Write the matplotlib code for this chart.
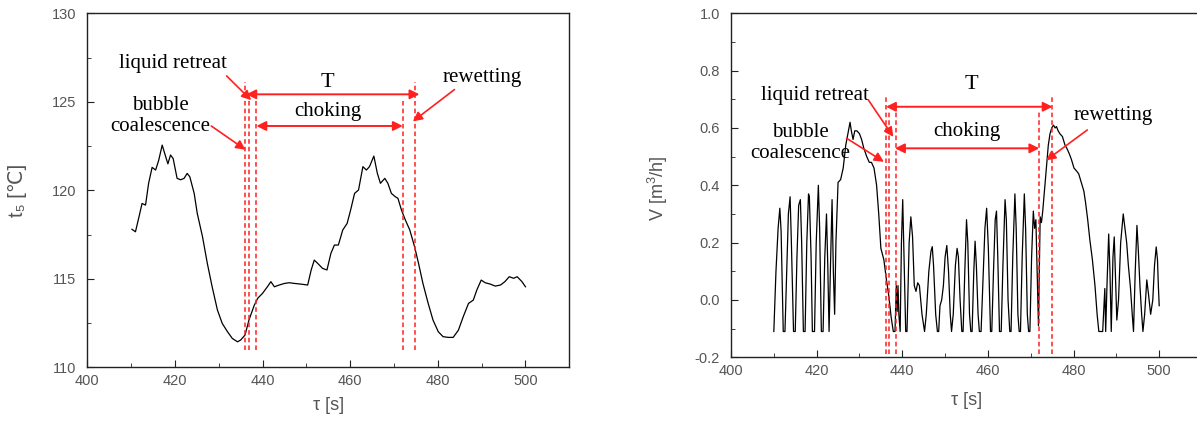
import matplotlib
matplotlib.use('Agg')
import matplotlib.pyplot as plt
import numpy as np

# temperature t5 vs time (left panel)
t_time = [410.2, 411.0, 411.8, 412.5, 413.3, 414.0, 414.8, 415.6, 416.3, 417.1,
          417.9, 418.4, 419.0, 419.6, 420.5, 421.3, 422.1, 422.8, 423.4, 424.4,
          425.1, 426.3, 427.4, 428.5, 429.7, 430.8, 432.0, 433.1, 434.3, 435.0,
          436.0, 436.9, 438.1, 438.9, 440.0, 441.1, 441.9, 442.7, 443.8, 445.0,
          446.1, 447.3, 448.8, 450.3, 451.1, 451.8, 452.6, 453.7, 454.7, 455.6,
          456.4, 457.3, 458.3, 459.3, 460.1, 461.0, 461.9, 462.9, 463.7, 464.4,
          465.4, 466.2, 466.9, 467.9, 468.6, 469.4, 470.3, 470.9, 471.7, 472.6,
          473.6, 474.7, 475.6, 476.6, 477.8, 478.9, 480.1, 481.2, 482.4, 483.5,
          484.7, 485.8, 487.0, 488.1, 488.9, 489.9, 490.8, 492.0, 493.1, 494.3,
          495.3, 496.3, 497.3, 498.1, 499.2, 500.0]
t_val = [117.8, 117.66, 118.5, 119.26, 119.17, 120.4, 121.3, 121.15, 121.7, 122.56,
         121.9, 121.5, 122.0, 121.8, 120.68, 120.6, 120.68, 120.96, 120.77, 119.83,
         118.7, 117.38, 115.87, 114.55, 113.24, 112.48, 112.01, 111.63, 111.44, 111.54,
         111.82, 112.67, 113.5, 113.9, 114.18, 114.55, 114.84, 114.55, 114.65, 114.74,
         114.78, 114.74, 114.7, 114.65, 115.5, 116.06, 115.87, 115.59, 115.5, 116.44,
         116.91, 116.91, 117.76, 118.13, 118.89, 119.83, 120.02, 121.34, 121.15, 121.34,
         121.94, 120.96, 120.4, 120.68, 120.4, 119.83, 119.64, 119.55, 118.89, 118.32,
         117.76, 116.81, 115.87, 114.74, 113.61, 112.67, 112.01, 111.73, 111.69, 111.69,
         112.1, 112.86, 113.61, 113.8, 114.37, 114.93, 114.78, 114.7, 114.59, 114.65,
         114.84, 115.12, 115.03, 115.12, 114.84, 114.55]

# volume flow V vs time (right panel)
v_time = [410.0, 410.5, 411.0, 411.4, 411.7, 412.2, 412.6, 413.0, 413.4, 413.8,
          414.1, 414.6, 415.0, 415.4, 415.8, 416.2, 416.5, 416.9, 417.3, 417.7,
          418.1, 418.3, 418.7, 419.0, 419.5, 419.9, 420.4, 420.7, 421.1, 421.5,
          421.9, 422.3, 422.6, 422.9, 423.2, 423.6, 423.9, 424.2, 424.5, 425.0,
          425.6, 426.2, 426.8, 427.3, 427.8, 428.1, 428.5, 428.9, 429.4, 430.0,
          430.5, 431.0, 431.7, 432.3, 432.8, 433.4, 434.0, 434.5, 435.0, 435.7,
          436.3, 436.8, 437.4, 437.9, 438.3, 438.6, 438.8, 439.0, 439.2, 439.5,
          439.8, 440.1, 440.4, 440.8, 441.1, 441.6, 442.0, 442.4, 442.8, 443.2,
          443.6, 444.0, 444.6, 445.2, 445.6, 446.2, 446.7, 447.0, 447.3, 447.8,
          448.2, 448.5, 448.8, 449.2, 449.6, 450.0, 450.4, 450.8, 451.2, 451.5,
          451.9, 452.4, 452.8, 453.1, 453.5, 453.9, 454.2, 454.6, 455.0, 455.3,
          455.7, 456.0, 456.3, 456.7, 457.0, 457.3, 457.7, 458.0, 458.4, 458.8,
          459.3, 459.7, 460.1, 460.6, 460.9, 461.3, 461.7, 462.0, 462.3, 462.7,
          463.1, 463.5, 464.0, 464.3, 464.7, 465.1, 465.4, 465.8, 466.3, 466.6,
          467.0, 467.3, 467.6, 468.0, 468.5, 468.8, 469.2, 469.5, 469.8, 470.2,
          470.6, 470.9, 471.2, 471.5, 471.8, 472.0, 472.2, 472.5, 472.8, 473.2,
          473.7, 474.1, 474.5, 474.9, 475.3, 475.7, 476.0, 476.4, 476.8, 477.4,
          478.0, 478.4, 479.0, 479.5, 480.1, 480.7, 481.2, 481.8, 482.4, 482.8,
          483.3, 483.8, 484.4, 485.0, 485.5, 485.9, 486.8, 487.1, 487.3, 487.5,
          487.8, 488.2, 488.5, 488.8, 489.2, 489.5, 489.8, 490.1, 490.5, 491.0,
          491.6, 492.0, 492.4, 492.8, 493.3, 493.7, 494.0, 494.4, 494.8, 495.1,
          495.5, 495.9, 496.2, 496.6, 497.1, 497.5, 498.0, 498.5, 498.9, 499.3,
          499.6, 499.8, 500.0]
v_val = [-0.11, 0.10, 0.25, 0.32, 0.24, -0.11, -0.11, 0.10, 0.30, 0.36,
         0.20, -0.11, -0.11, 0.15, 0.33, 0.35, 0.20, -0.11, -0.11, 0.20,
         0.37, 0.36, 0.15, -0.11, -0.11, 0.20, 0.40, 0.25, -0.11, -0.11,
         0.15, 0.30, 0.12, -0.11, 0.10, 0.35, 0.10, -0.05, 0.20, 0.41,
         0.42, 0.46, 0.54, 0.58, 0.62, 0.59, 0.56, 0.59, 0.59, 0.58,
         0.56, 0.53, 0.50, 0.48, 0.48, 0.46, 0.40, 0.30, 0.18, 0.14,
         0.07, 0.02, -0.06, -0.11, -0.11, 0.05, -0.04, 0.05, -0.05, -0.11,
         0.20, 0.35, 0.15, -0.11, -0.11, 0.20, 0.29, 0.22, 0.05, 0.03,
         0.06, 0.05, -0.05, -0.11, -0.05, 0.10, 0.17, 0.186, 0.12, -0.05,
         -0.11, -0.11, -0.02, 0.00, 0.05, 0.15, 0.19, 0.10, -0.05, -0.11,
         -0.05, 0.12, 0.18, 0.15, 0.00, -0.11, -0.11, 0.10, 0.28, 0.20,
         -0.05, -0.11, -0.11, 0.10, 0.205, 0.12, -0.05, -0.11, -0.11, 0.05,
         0.25, 0.32, 0.18, -0.11, -0.11, 0.10, 0.28, 0.31, 0.15, -0.11,
         -0.11, 0.12, 0.35, 0.28, 0.00, -0.11, -0.11, 0.15, 0.37, 0.25,
         -0.05, -0.11, -0.11, 0.15, 0.37, 0.25, -0.05, -0.11, -0.11, 0.15,
         0.31, 0.25, 0.28, 0.10, -0.09, 0.10, 0.29, 0.27, 0.31, 0.38,
         0.47, 0.54, 0.58, 0.60, 0.61, 0.60, 0.605, 0.59, 0.58, 0.57,
         0.54, 0.53, 0.51, 0.49, 0.46, 0.45, 0.44, 0.41, 0.38, 0.34,
         0.28, 0.21, 0.14, 0.05, -0.05, -0.11, -0.11, -0.02, 0.04, -0.11,
         0.05, 0.23, 0.10, -0.11, 0.15, 0.22, 0.08, -0.07, 0.00, 0.20,
         0.30, 0.25, 0.20, 0.12, 0.04, -0.05, -0.11, 0.10, 0.26, 0.18,
         0.05, -0.05, -0.11, -0.05, 0.07, 0.02, -0.05, 0.00, 0.12, 0.185,
         0.14, 0.05, -0.02]

# event markers (dashed lines) shared by both panels
event_x = [436.1, 436.8, 438.5, 472.0, 474.9]

plt.rcParams['font.family'] = ['Liberation Sans', 'DejaVu Sans']
plt.rcParams['mathtext.fontset'] = 'custom'
plt.rcParams['mathtext.rm'] = 'Liberation Sans'
plt.rcParams['mathtext.it'] = 'Liberation Sans:italic'

GREY = '#555555'
RED = '#ff2020'
SERIF = ['Liberation Serif', 'DejaVu Serif']

fig = plt.figure(figsize=(11.97, 4.25), dpi=100)
ax1 = fig.add_axes([0.0729, 0.1358, 0.4027, 0.8325])
ax2 = fig.add_axes([0.6107, 0.1593, 0.3935, 0.8094])


def style_axes(ax):
    ax.tick_params(which='both', direction='in', top=False, right=False,
                   labelsize=10.5, labelcolor=GREY, color='#222222')
    ax.tick_params(which='major', length=5)
    ax.tick_params(which='minor', length=3)
    ax.tick_params(axis='y', pad=8)
    ax.tick_params(axis='x', pad=5)
    for s in ax.spines.values():
        s.set_color('#222222')
        s.set_linewidth(1.0)


# ---- left panel ----
ax1.plot(t_time, t_val, color='black', linewidth=0.9)
ax1.set_xlim(400, 510)
ax1.set_ylim(110, 130)
ax1.set_xticks(np.arange(400, 501, 20))
ax1.set_xticks(np.arange(410, 501, 10), minor=True)
ax1.set_yticks(np.arange(110, 131, 5))
ax1.set_yticks(np.arange(112.5, 130, 2.5), minor=True)
style_axes(ax1)
ax1.set_xlabel('τ [s]', fontsize=13, color=GREY)
ax1.set_ylabel('t\u2085 [\u2103]', fontsize=14.5, color=GREY)
ax1.xaxis.set_label_coords(0.5, -0.085)
ax1.yaxis.set_label_coords(-0.125, 0.5)

tops1 = [126.1, 125.1, 125.1, 125.1, 126.1]
for x, top in zip(event_x, tops1):
    ax1.plot([x, x], [111.0, top], color=RED, linestyle=(0, (3, 2)), linewidth=1.1)

dbl = dict(arrowstyle='<|-|>', color=RED, lw=1.4, mutation_scale=14, shrinkA=0, shrinkB=0)
one = dict(arrowstyle='-|>', color=RED, lw=1.2, mutation_scale=14, shrinkA=0, shrinkB=0)
ax1.annotate('', xy=(436.3, 125.43), xytext=(475.8, 125.43), arrowprops=dbl)
ax1.annotate('', xy=(438.6, 123.64), xytext=(472.0, 123.64), arrowprops=dbl)
ax1.text(454.9, 126.1, 'T', fontsize=16, family=SERIF, ha='center', va='center')
ax1.text(454.9, 124.45, 'choking', fontsize=15, family=SERIF, ha='center', va='center')
ax1.text(419.6, 127.2, 'liquid retreat', fontsize=15, family=SERIF, ha='center', va='center')
ax1.text(416.6, 124.2, 'bubble\ncoalescence', fontsize=15, family=SERIF,
         ha='center', va='center', linespacing=1.15)
ax1.text(490.2, 126.4, 'rewetting', fontsize=15, family=SERIF, ha='center', va='center')
ax1.annotate('', xy=(437.4, 125.1), xytext=(431.8, 126.47), arrowprops=one)
ax1.annotate('', xy=(436.1, 122.3), xytext=(428.3, 123.64), arrowprops=one)
ax1.annotate('', xy=(474.3, 123.9), xytext=(483.8, 125.7), arrowprops=one)

# ---- right panel ----
ax2.plot(v_time, v_val, color='black', linewidth=0.9)
ax2.set_xlim(400, 510)
ax2.set_ylim(-0.2, 1.0)
ax2.set_xticks(np.arange(400, 501, 20))
ax2.set_xticks(np.arange(410, 501, 10), minor=True)
ax2.set_yticks(np.arange(-0.2, 1.01, 0.2))
ax2.set_yticks(np.arange(-0.1, 1.0, 0.2), minor=True)
ax2.yaxis.set_major_formatter(matplotlib.ticker.FormatStrFormatter('%.1f'))
style_axes(ax2)
ax2.set_xlabel('τ [s]', fontsize=13, color=GREY)
ax2.set_ylabel(r'V [m$^{\mathrm{3}}$/h]', fontsize=13, color=GREY)
ax2.xaxis.set_label_coords(0.5, -0.1)
ax2.yaxis.set_label_coords(-0.13, 0.49)

tops2 = [0.715, 0.663, 0.663, 0.663, 0.715]
for x, top in zip(event_x, tops2):
    ax2.plot([x, x], [-0.19, top], color=RED, linestyle=(0, (3, 2)), linewidth=1.1)

ax2.annotate('', xy=(436.2, 0.674), xytext=(475.1, 0.674), arrowprops=dbl)
ax2.annotate('', xy=(438.3, 0.529), xytext=(472.0, 0.529), arrowprops=dbl)
ax2.text(456.2, 0.75, 'T', fontsize=16, family=SERIF, ha='center', va='center')
ax2.text(455.1, 0.587, 'choking', fontsize=15, family=SERIF, ha='center', va='center')
ax2.text(419.6, 0.715, 'liquid retreat', fontsize=15, family=SERIF, ha='center', va='center')
ax2.text(416.1, 0.546, 'bubble\ncoalescence', fontsize=15, family=SERIF,
         ha='center', va='center', linespacing=1.15)
ax2.text(489.3, 0.645, 'rewetting', fontsize=15, family=SERIF, ha='center', va='center')
ax2.annotate('', xy=(437.9, 0.569), xytext=(432.1, 0.697), arrowprops=one)
ax2.annotate('', xy=(435.7, 0.482), xytext=(427.0, 0.564), arrowprops=one)
ax2.annotate('', xy=(473.6, 0.487), xytext=(483.2, 0.593), arrowprops=one)

fig.savefig('out.png', dpi=100)
